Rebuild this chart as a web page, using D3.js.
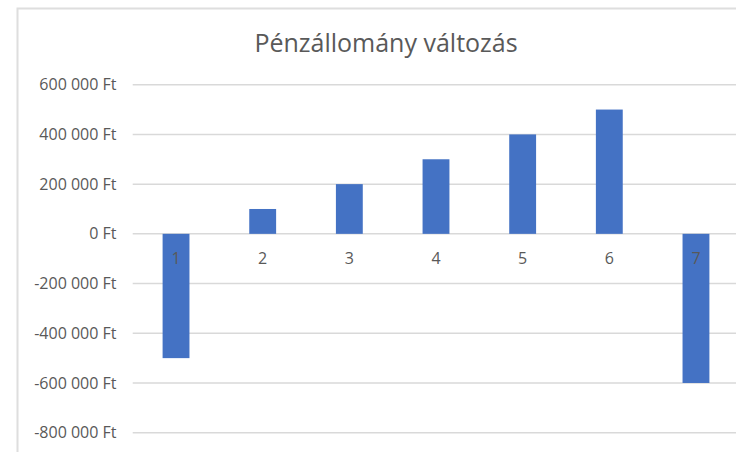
<!DOCTYPE html>
<html><head><meta charset="utf-8">
<script src="https://cdn.jsdelivr.net/npm/d3@7"></script>
<style>html,body{margin:0;padding:0;background:#fff;}svg{display:block;}</style>
</head><body>
<svg id="chart" width="736" height="452"></svg>
<script>
const title = "Pénzállomány változás";
const categories = ["1","2","3","4","5","6","7"];
const values = [-500000, 100000, 200000, 300000, 400000, 500000, -600000];
const yTicks = [-800000, -600000, -400000, -200000, 0, 200000, 400000, 600000];
const yTickLabels = ["-800 000 Ft","-600 000 Ft","-400 000 Ft","-200 000 Ft","0 Ft","200 000 Ft","400 000 Ft","600 000 Ft"];

const svg = d3.select("#chart");
const font = "'Open Sans', 'Liberation Sans', sans-serif";
const textColor = "#595959";

// chart frame
svg.append("rect").attr("x",17.5).attr("y",8.5).attr("width",800).attr("height",500)
  .attr("fill","#fff").attr("stroke","#dedede").attr("stroke-width",2);

const x = d3.scaleBand().domain(categories).range([132.7, 739.3]).paddingInner(0.69).paddingOuter(0.345);
const y = d3.scaleLinear().domain([-800000, 600000]).range([432.7, 84.7]);

// gridlines
svg.append("g").selectAll("line").data(yTicks).join("line")
  .attr("x1", x.range()[0]).attr("x2", x.range()[1])
  .attr("y1", d => y(d)).attr("y2", d => y(d))
  .attr("stroke","#d9d9d9").attr("stroke-width",1.5);

// bars
svg.append("g").selectAll("rect").data(values).join("rect")
  .attr("x", (d,i) => x(categories[i]))
  .attr("width", x.bandwidth())
  .attr("y", d => y(Math.max(0,d)))
  .attr("height", d => Math.abs(y(d) - y(0)))
  .attr("fill","#4472c4");

// y axis
const yAxis = d3.axisLeft(y).tickValues(yTicks).tickSize(0).tickPadding(0)
  .tickFormat(d => yTickLabels[yTicks.indexOf(d)]);
const gy = svg.append("g").attr("transform","translate(116.5,0)").call(yAxis);
gy.select(".domain").remove();
gy.selectAll("text").attr("font-family", font).attr("font-size", 16).attr("fill", textColor);

// x axis
const xAxis = d3.axisBottom(x).tickSize(0).tickPadding(18.5);
const gx = svg.append("g").attr("transform",`translate(0,${y(0)})`).call(xAxis);
gx.select(".domain").remove();
gx.selectAll("text").attr("font-family", font).attr("font-size", 16).attr("fill", textColor);

// title
svg.append("text").attr("x", 386).attr("y", 51.5).attr("text-anchor","middle")
  .attr("font-family", font).attr("font-size", 25).attr("fill", textColor).text(title);
</script>
</body></html>
